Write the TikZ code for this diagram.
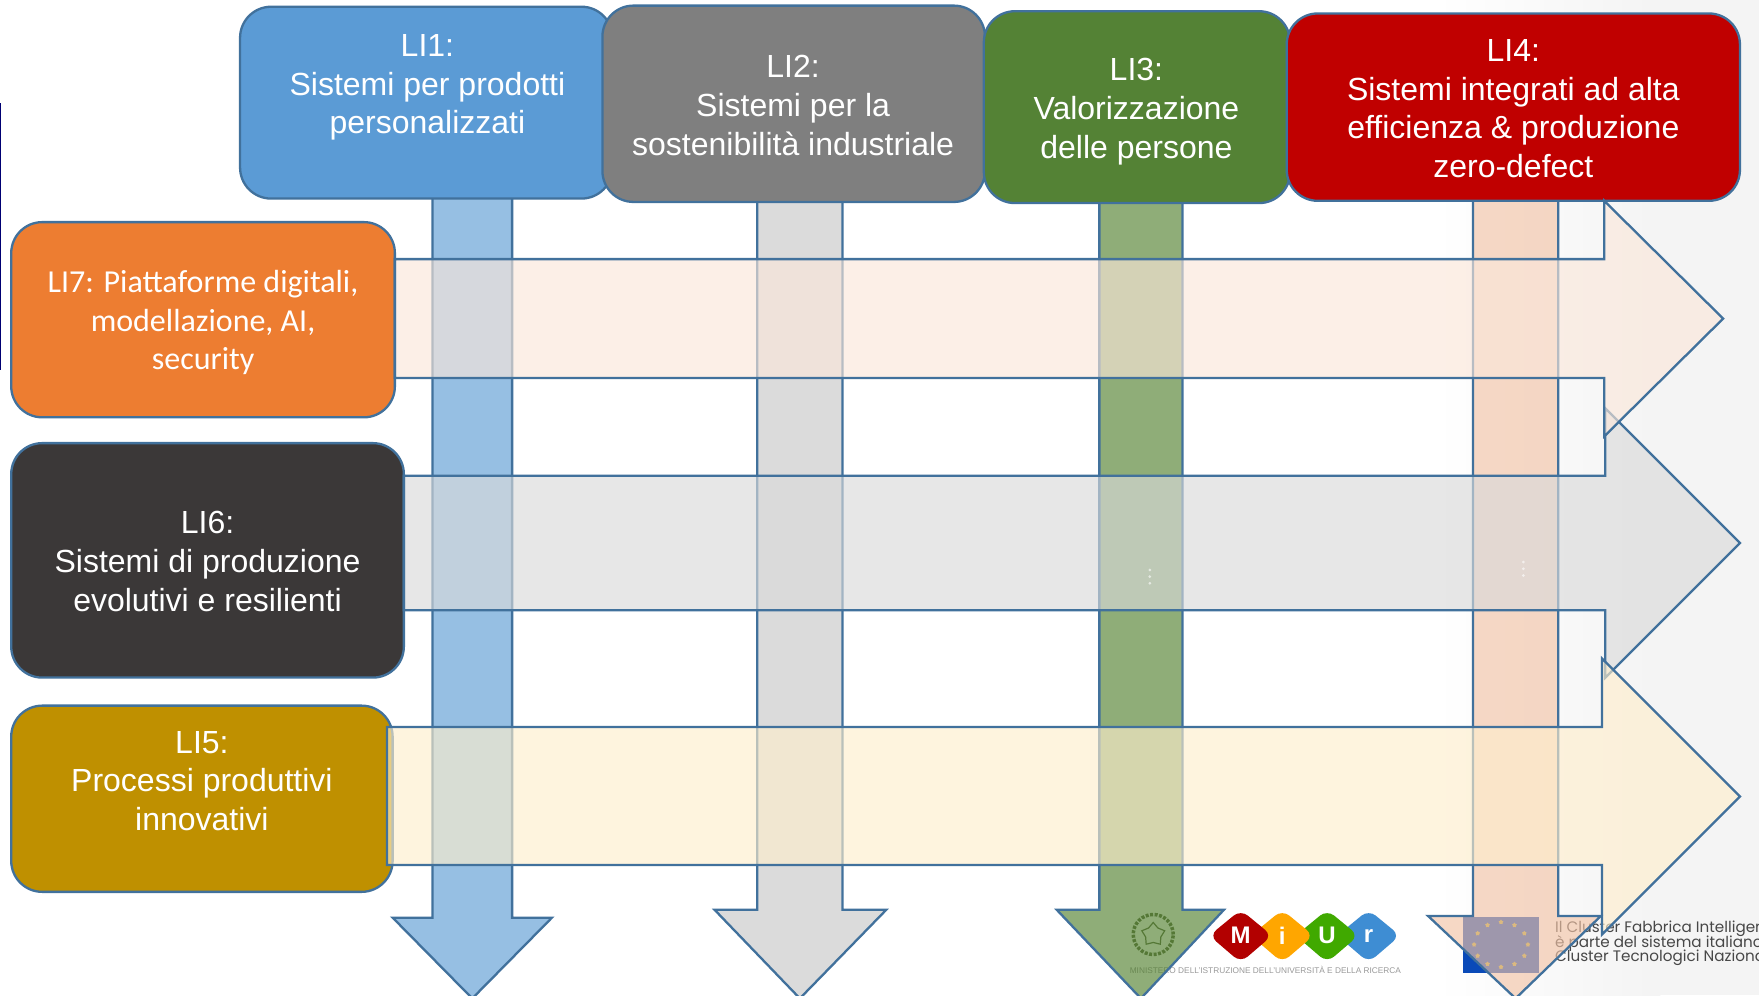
\documentclass[tikz,border=0pt]{standalone}
\usepackage{fontspec}
\setmainfont{Liberation Sans}
\newfontfamily\carlitofont{Carlito}
\newfontfamily\logofont{Poppins}
\usetikzlibrary{shapes.geometric}
\definecolor{edge}{HTML}{41719C}
\definecolor{vblue}{HTML}{5C9CD4}
\definecolor{vgray}{HTML}{C7C7C7}
\definecolor{vgreen}{HTML}{507F2C}
\definecolor{vorange}{HTML}{F2C3A6}
\definecolor{horange}{HTML}{FBE7DA}
\definecolor{hgray}{HTML}{DADADA}
\definecolor{hyellow}{HTML}{FEEECC}
\definecolor{cbone}{HTML}{5B9BD5}
\definecolor{cbtwo}{HTML}{7F7F7F}
\definecolor{cbthree}{HTML}{548235}
\definecolor{cbfour}{HTML}{C00000}
\definecolor{cbfive}{HTML}{BF9000}
\definecolor{cbsix}{HTML}{3B3838}
\definecolor{cbseven}{HTML}{ED7D31}
\definecolor{eublue}{HTML}{0A4AB8}
\definecolor{emblemc}{HTML}{5E6E4A}
\tikzset{
  flow/.style={draw=edge,line width=2.3pt,fill opacity=.64,draw opacity=1,miter limit=10},
  boxn/.style={draw=edge,line width=2.3pt,rounded corners=31pt,inner sep=0pt,outer sep=0pt},
  boxtext/.style={text=white,align=center,inner sep=0pt,font=\fontsize{32}{38.6}\selectfont},
  caltext/.style={text=white,align=center,inner sep=0pt,font=\carlitofont\fontsize{32}{38.6}\selectfont},
  clustertext/.style={text=black!72,anchor=west,inner sep=0pt,font=\logofont\fontsize{15.2}{16}\selectfont},
  diam/.style={rounded corners=9pt,draw=none},
  miurletter/.style={text=white,inner sep=0pt,font=\bfseries\fontsize{24}{24}\selectfont},
  dotn/.style={circle,fill=white,fill opacity=.6,minimum size=3pt,inner sep=0pt}
}
\newcommand\vflow[8]{% fill, x1, x2, top, heady, hx1, hx2, tip (x)
  \path[flow,fill=#1] (#2,#4) -- (#3,#4) -- (#3,#5) -- (#7,#5) -- (#8,890) -- (#6,#5) -- (#2,#5) -- cycle;}
\newcommand\hflow[9]{% fill, x0, y1, y2, headx, headtop, headbot, tipx, tipy
  \path[flow,fill=#1] (#2,#3) -- (#5,#3) -- (#5,#6) -- (#8,#9) -- (#5,#7) -- (#5,#4) -- (#2,#4) -- cycle;}
\newcommand\boxnode[6]{% name, fill, x1, y1, x2, y2
  \node[boxn,fill=#2,minimum width={(#5-#3)*1.1218pt},minimum height={(#6-#4)*1.1218pt}] (#1) at ({(#3+#5)/2},{(#4+#6)/2}) {};}
\begin{document}
\begin{tikzpicture}[x=1.1218pt,y=-1.1218pt]
\useasboundingbox (0,0) rectangle (1568,887);
\clip (0,0) rectangle (1568,887);
% background
\fill[white] (0,0) rectangle (1568,887);
\shade[left color=white,right color=black!4.5] (1280,0) rectangle (1480,887);
\fill[black!4.5] (1480,0) rectangle (1568,887);
\draw[color=blue!45!black,line width=1.5pt] (0.5,92) -- (0.5,330);
% logos
\node[circle,draw=emblemc,line width=3.5pt,dash pattern=on 3pt off 1.5pt,minimum size=40pt,inner sep=0pt] (emblem) at (1028,833) {};
\node[star,star points=5,draw=emblemc,line width=1.2pt,minimum size=24pt,inner sep=0pt] (emstar) at (1028,833) {};
\fill[diam,fill=cyan!60!blue!80!white] (1220,811) -- (1248,834) -- (1220,858) -- (1192,834) -- cycle;
\fill[diam,fill=green!55!black!75!yellow] (1183,811) -- (1211,834) -- (1183,858) -- (1155,834) -- cycle;
\fill[diam,fill=orange!70!yellow] (1143,811) -- (1171,834) -- (1143,858) -- (1115,834) -- cycle;
\fill[diam,fill=red!70!black] (1106,811) -- (1134,834) -- (1106,858) -- (1078,834) -- cycle;
\node[miurletter] (mm) at (1106,834) {M};
\node[miurletter] (mi) at (1143,834) {i};
\node[miurletter] (mu) at (1183,834) {U};
\node[miurletter] (mr) at (1220,834) {r};
\node[text=black!40,inner sep=0pt,font=\fontsize{8.3}{9}\selectfont] (mcap) at (1128,865) {MINISTERO DELL'ISTRUZIONE DELL'UNIVERSITÀ E DELLA RICERCA};
\fill[eublue] (1304,817) rectangle (1372,867);
\foreach \a in {0,30,...,330}
  \node[star,star points=5,fill=yellow!70!orange,fill opacity=.7,minimum size=5pt,inner sep=0pt] (eu\a) at ({1338+24*cos(\a)},{842+20*sin(\a)}) {};
\node[clustertext] (c1) at (1386,828) {Il Cluster Fabbrica Intelligente};
\node[clustertext] (c2) at (1386,841) {è parte del sistema italiano};
\node[clustertext] (c3) at (1386,854) {Cluster Tecnologici Nazionali};
% vertical arrows
\vflow{vblue}{385.5}{456.5}{170}{818}{350}{492}{421}
\vflow{vgray}{675}{751}{170}{811}{637}{790}{713}
\vflow{vgreen}{980}{1054}{170}{811}{942}{1091}{1017}
\vflow{vorange}{1313}{1389}{170}{816.5}{1273}{1427}{1351}
% boxes
\boxnode{b1}{cbone}{214}{6}{546}{177}
\boxnode{b2}{cbtwo}{537}{5}{878}{180}
\boxnode{b3}{cbthree}{877}{10}{1150}{181}
\boxnode{b4}{cbfour}{1147}{12}{1551}{179}
\boxnode{b7}{cbseven}{10}{198}{352}{372}
\boxnode{b6}{cbsix}{10}{395}{360}{604}
\boxnode{b5}{cbfive}{10}{629}{350}{795}
% horizontal arrows
\hflow{hgray}{360}{424}{544}{1431}{364}{604}{1551}{484}
\hflow{horange}{352}{231}{337}{1430}{179}{389}{1536}{284}
\hflow{hyellow}{345}{648}{771}{1428}{587}{833}{1551}{710}
% dots
\foreach \n/\x/\y in {a/1025/508,b/1025/514,c/1025/520,d/1358/501,e/1358/507,f/1358/513}
  \node[dotn] (dot\n) at (\x,\y) {};
% texts
\node[boxtext] (t1) at (381,78) {LI1:\\Sistemi per prodotti\\personalizzati};
\node[boxtext] (t2) at (707,94) {LI2:\\Sistemi per la\\sostenibilità industriale};
\node[boxtext] (t3) at (1013,99.5) {LI3:\\Valorizzazione\\delle persone};
\node[boxtext] (t4) at (1349,97) {LI4:\\Sistemi integrati ad alta\\efficienza \& produzione\\zero-defect};
\node[caltext] (t7) at (181,287.5) {LI7: Piattaforme digitali,\\modellazione, AI,\\security};
\node[boxtext] (t6) at (185,500.5) {LI6:\\Sistemi di produzione\\evolutivi e resilienti};
\node[boxtext] (t5) at (180,696) {LI5:\\Processi produttivi\\innovativi};
\end{tikzpicture}
\end{document}
